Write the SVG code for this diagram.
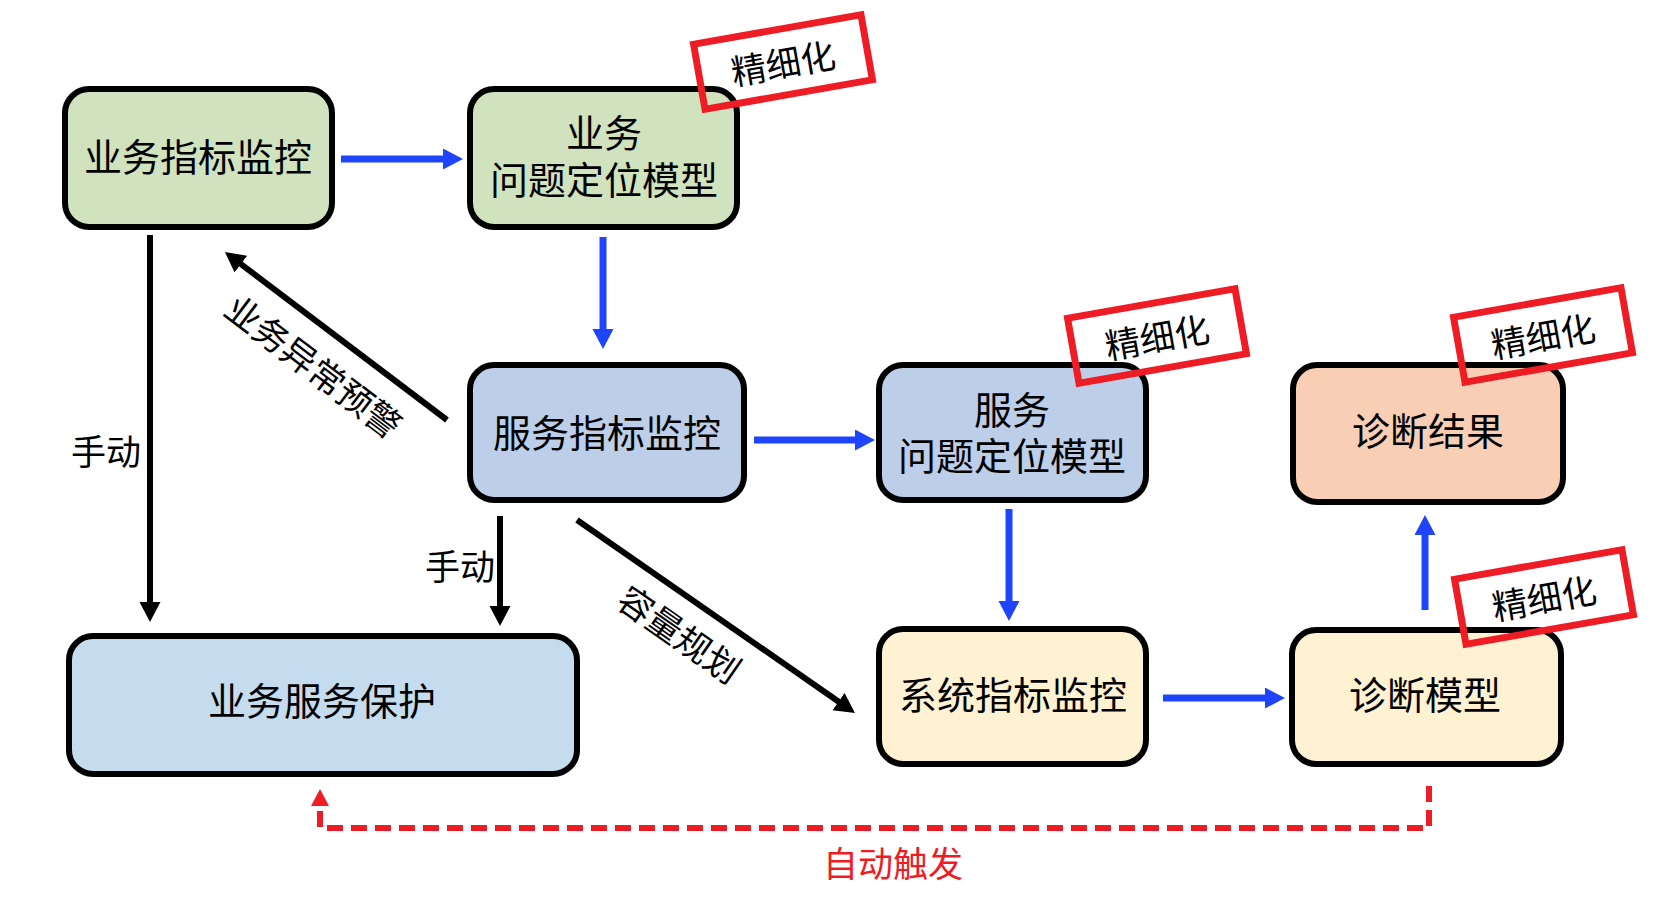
<svg xmlns="http://www.w3.org/2000/svg" width="1662" height="918" viewBox="0 0 1662 918">
<style>
text{font-family:"Liberation Sans","Noto Sans CJK SC",sans-serif;dominant-baseline:central;text-anchor:middle;fill:#000}
.box{stroke:#000;stroke-width:6}
.lbl{font-size:38px}
.edge{font-size:35px}
.blue{stroke:#1F45FC;stroke-width:7;fill:none}
.black{stroke:#000;stroke-width:6;fill:none}
.red{stroke:#EE1C25;stroke-width:6;fill:none;stroke-dasharray:16 8}
.tag rect{fill:none;stroke:#EE1C25;stroke-width:7}
.tag text{font-size:35px}
</style>
<defs>
<marker id="ab" markerUnits="userSpaceOnUse" markerWidth="22" markerHeight="22" refX="2" refY="10.5" orient="auto"><path d="M0,0 L20,10.5 L0,21 z" fill="#1F45FC"/></marker>
<marker id="ak" markerUnits="userSpaceOnUse" markerWidth="22" markerHeight="22" refX="2" refY="10.5" orient="auto"><path d="M0,0 L20,10.5 L0,21 z" fill="#000"/></marker>
<marker id="ar" markerUnits="userSpaceOnUse" markerWidth="20" markerHeight="20" refX="2" refY="9" orient="auto"><path d="M0,0 L17,9 L0,18 z" fill="#EE1C25"/></marker>
</defs>
<rect width="1662" height="918" fill="#fff"/>

<g id="n1"><rect class="box" x="65" y="89" width="267" height="138" rx="24" fill="#D0E2BE"/><text class="lbl" x="198" y="158">业务指标监控</text></g>
<g id="n2"><rect class="box" x="470" y="89" width="267" height="138" rx="24" fill="#D0E2BE"/><text class="lbl" x="604" y="134">业务</text><text class="lbl" x="604" y="181">问题定位模型</text></g>
<g id="n3"><rect class="box" x="470" y="365" width="274" height="135" rx="24" fill="#BCCEE8"/><text class="lbl" x="607" y="434">服务指标监控</text></g>
<g id="n4"><rect class="box" x="879" y="365" width="267" height="135" rx="24" fill="#BCCEE8"/><text class="lbl" x="1012" y="411">服务</text><text class="lbl" x="1012" y="457">问题定位模型</text></g>
<g id="n5"><rect class="box" x="1293" y="365" width="270" height="137" rx="24" fill="#F8CFB5"/><text class="lbl" x="1428" y="432">诊断结果</text></g>
<g id="n6"><rect class="box" x="879" y="629" width="267" height="135" rx="24" fill="#FEF2D2"/><text class="lbl" x="1013" y="696">系统指标监控</text></g>
<g id="n7"><rect class="box" x="1292" y="630" width="269" height="134" rx="24" fill="#FEF2D2"/><text class="lbl" x="1425" y="696">诊断模型</text></g>
<g id="n8"><rect class="box" x="69" y="636" width="508" height="138" rx="24" fill="#C5DCEF"/><text class="lbl" x="322" y="702">业务服务保护</text></g>

<g id="connectors">
<line class="blue" x1="341" y1="159" x2="445" y2="159" marker-end="url(#ab)"/>
<line class="blue" x1="603" y1="237" x2="603" y2="331" marker-end="url(#ab)"/>
<line class="blue" x1="754" y1="440" x2="857" y2="440" marker-end="url(#ab)"/>
<line class="blue" x1="1009" y1="509" x2="1009" y2="603" marker-end="url(#ab)"/>
<line class="blue" x1="1163" y1="698" x2="1267" y2="698" marker-end="url(#ab)"/>
<line class="blue" x1="1425" y1="610" x2="1425" y2="533" marker-end="url(#ab)"/>
<line class="black" x1="150" y1="235" x2="150" y2="604" marker-end="url(#ak)"/>
<line class="black" x1="500" y1="516" x2="500" y2="608" marker-end="url(#ak)"/>
<line class="black" x1="447" y1="420" x2="239.3" y2="262.9" marker-end="url(#ak)"/>
<line class="black" x1="577" y1="520" x2="840.2" y2="702.7" marker-end="url(#ak)"/>
<path class="red" d="M1429,786 L1429,828 L320,828 L320,804" marker-end="url(#ar)"/>
<text class="edge" x="106" y="452">手动</text>
<text class="edge" x="460" y="567">手动</text>
<text class="edge" transform="translate(313,367) rotate(37.1)">业务异常预警</text>
<text class="edge" transform="translate(679,635) rotate(34.8)">容量规划</text>
<text class="edge" x="893" y="864" style="fill:#EE1C25">自动触发</text>
</g>

<g id="tag1" class="tag" transform="translate(783,62) rotate(-10)"><rect x="-85" y="-33" width="170" height="66"/><text x="0" y="2">精细化</text></g>
<g id="tag2" class="tag" transform="translate(1157,336) rotate(-10)"><rect x="-85" y="-33" width="170" height="66"/><text x="0" y="2">精细化</text></g>
<g id="tag3" class="tag" transform="translate(1543,335) rotate(-10)"><rect x="-85" y="-33" width="170" height="66"/><text x="0" y="2">精细化</text></g>
<g id="tag4" class="tag" transform="translate(1544,597) rotate(-10)"><rect x="-85" y="-33" width="170" height="66"/><text x="0" y="2">精细化</text></g>
</svg>
